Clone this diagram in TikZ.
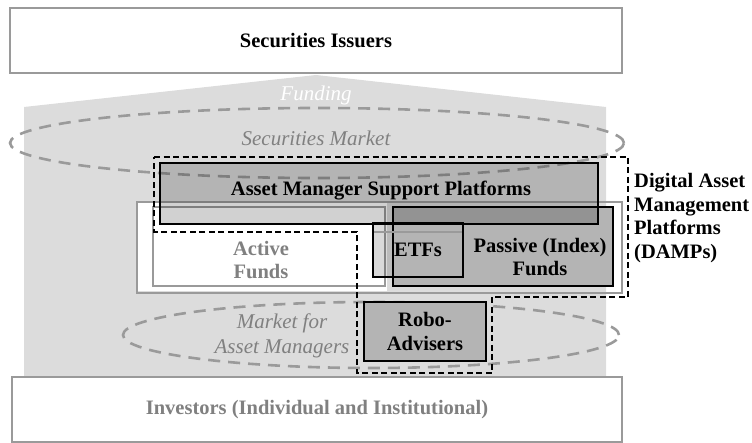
\documentclass[tikz,border=0pt]{standalone}
\usepackage{fontspec}
\setmainfont{Liberation Serif}
\usetikzlibrary{shapes.geometric}

\definecolor{areagray}{HTML}{DCDCDC}
\definecolor{edgegray}{HTML}{9A9A9A}
\definecolor{labelgray}{HTML}{808080}
\definecolor{boxgray}{HTML}{B4B4B4}

\begin{document}
\begin{tikzpicture}[x=1pt, y=-1pt,
    plainbox/.style={rectangle, draw=edgegray, line width=2.3pt, inner sep=0pt},
    dampbox/.style={rectangle, draw=black, line width=2.5pt, inner sep=0pt},
    market/.style={ellipse, draw=edgegray, line width=2.6pt, dash pattern=on 12pt off 8pt, inner sep=0pt},
    boldtext/.style={font=\fontsize{20.5}{23.5}\selectfont\bfseries, align=center, inner sep=0pt},
    slanttext/.style={font=\fontsize{21}{25}\selectfont\itshape, align=center, inner sep=0pt, text=labelgray}]
    \useasboundingbox (0,0) rectangle (752,443);

    % funding area between issuers and investors
    \fill [areagray] (24,107) -- (316,75) -- (606,107) -- (606,377) -- (24,377) -- cycle;

    \node [plainbox, fill=white, minimum width=612, minimum height=65, boldtext] (issuers) at (316,40.5) {Securities Issuers};
    \node [plainbox, fill=white, minimum width=610, minimum height=65, boldtext, text=labelgray] (investors) at (317,409.5) {Investors (Individual and Institutional)};

    \node [market, minimum width=614, minimum height=70] (secmkt) at (317,143) {};
    \node [market, minimum width=496, minimum height=66] (ammkt) at (371,335) {};

    % funds
    \node [plainbox, minimum width=485, minimum height=91] (allfunds) at (379.5,247.5) {};
    \node [rectangle, fill=white, minimum width=249, minimum height=88, inner sep=0pt] (activefill) at (262.5,247.5) {};
    \node [plainbox, minimum width=232, minimum height=79] (active) at (269,246.5) {};
    \node [rectangle, fill=black, fill opacity=0.15, minimum width=90, minimum height=54, inner sep=0pt] (etfs) at (418,250) {};
    \node [dampbox, fill=boxgray, minimum width=220, minimum height=79] (passive) at (503,246.5) {};
    \draw [edgegray, line width=2.3pt] (etfs.south west) rectangle ([yshift=-9pt]etfs.north east);
    \draw [black, line width=2.5pt] (etfs.south west) rectangle (etfs.north east);

    % platforms
    \node [dampbox, fill=black, fill opacity=0.18, draw opacity=1, minimum width=438, minimum height=61] (amsp) at (379,193.5) {};
    \node [dampbox, fill=boxgray, minimum width=122, minimum height=59, boldtext] (robo) at (425,331.5) {Robo-\\Advisers};
    \draw [black, line width=1.8pt, dash pattern=on 6pt off 3.5pt] (154,157) -- (628,157) -- (628,297) -- (492,297) -- (492,373) -- (357,373) -- (357,232) -- (154,232) -- cycle;

    % labels
    \node [slanttext, text=white] (funding) at (316,95) {Funding};
    \node [slanttext] (secmkttext) at (316,138) {Securities Market};
    \node [slanttext] (ammkttext) at (282,336) {Market for\\Asset Managers};
    \node [boldtext] (amsptext) at (381,191) {Asset Manager Support Platforms};
    \node [boldtext, text=labelgray] (activetext) at (261,260) {Active\\Funds};
    \node [boldtext] (etftext) at (418,250) {ETFs};
    \node [boldtext] (passivetext) at (540,257) {Passive (Index)\\Funds};
    \node [boldtext, align=left, anchor=west] (damps) at (634,218) {Digital Asset\\Management\\Platforms\\(DAMPs)};
\end{tikzpicture}
\end{document}
